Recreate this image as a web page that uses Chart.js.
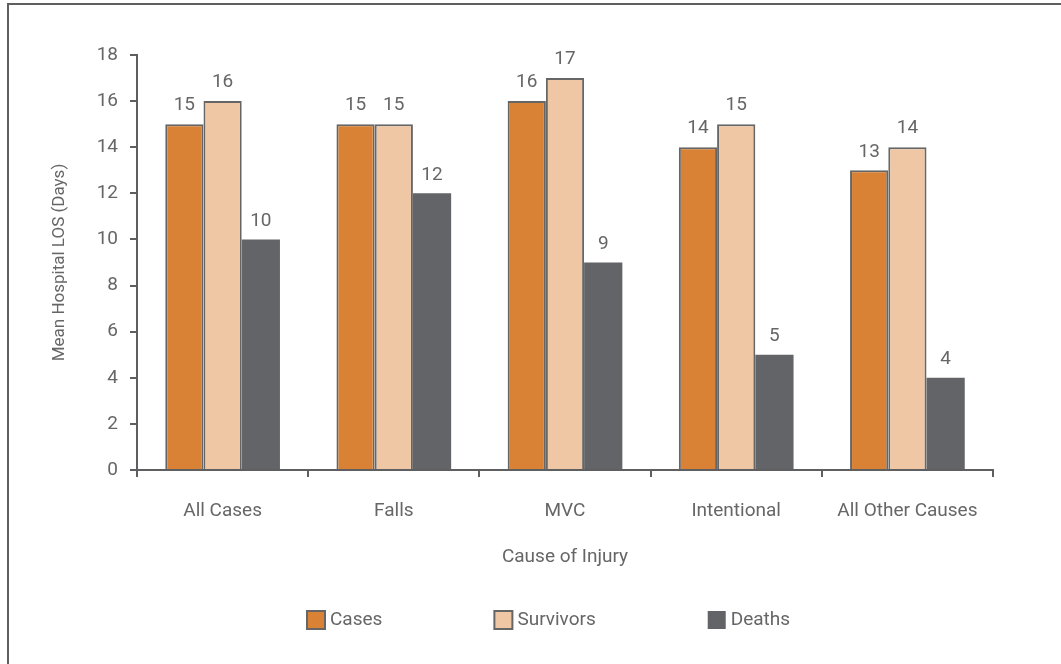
<!DOCTYPE html>
<html>
<head>
<meta charset="utf-8">
<script src="https://cdn.jsdelivr.net/npm/chart.js@4/dist/chart.umd.min.js"></script>
<style>
  html, body { margin: 0; padding: 0; background: #fff; }
  #wrap { width: 1061px; height: 664px; position: relative; }
</style>
</head>
<body>
<div id="wrap"><canvas id="myChart" width="1061" height="664"></canvas></div>
<script>
var categories = ["All Cases", "Falls", "MVC", "Intentional", "All Other Causes"];
var cases = [15, 15, 16, 14, 13];
var survivors = [16, 15, 17, 15, 14];
var deaths = [10, 12, 9, 5, 4];
var yTicks = [0, 2, 4, 6, 8, 10, 12, 14, 16, 18];

var FONT = "'Liberation Sans Narrow', 'Roboto', sans-serif";
var TEXT = "#666666";
var AXIS = "#5f5f62";

Chart.defaults.font.family = FONT;
Chart.defaults.color = TEXT;

// frame around the figure (only top and left show in the picture)
var framePlugin = {
  id: "frame",
  beforeDraw: function (chart) {
    var ctx = chart.ctx;
    ctx.save();
    ctx.fillStyle = "#fff";
    ctx.fillRect(0, 0, chart.width, chart.height);
    ctx.strokeStyle = AXIS;
    ctx.lineWidth = 2;
    ctx.beginPath();
    ctx.moveTo(8, chart.height);
    ctx.lineTo(8, 4);
    ctx.lineTo(chart.width, 4);
    ctx.stroke();
    ctx.restore();
  },
};

// numbers above the bars
var valueLabels = {
  id: "valueLabels",
  afterDatasetsDraw: function (chart) {
    var ctx = chart.ctx;
    ctx.save();
    ctx.font = "19px " + FONT;
    ctx.fillStyle = TEXT;
    ctx.textAlign = "center";
    ctx.textBaseline = "bottom";
    chart.data.datasets.forEach(function (ds, i) {
      chart.getDatasetMeta(i).data.forEach(function (bar, j) {
        ctx.fillText(ds.data[j], bar.x, bar.y - 9);
      });
    });
    ctx.restore();
  },
};

// legend row at the bottom, wide gaps like the original
var legendRow = {
  id: "legendRow",
  afterDraw: function (chart) {
    var ctx = chart.ctx;
    ctx.save();
    ctx.font = "19px " + FONT;
    ctx.textBaseline = "middle";
    ctx.textAlign = "left";
    var box = 18, gap = 112, x = 307, y = 620;
    chart.data.datasets.forEach(function (ds) {
      ctx.fillStyle = ds.backgroundColor;
      ctx.fillRect(x, y - box / 2, box, box);
      if (ds.borderWidth) {
        ctx.strokeStyle = ds.borderColor;
        ctx.lineWidth = 2;
        ctx.strokeRect(x, y - box / 2, box, box);
      }
      ctx.fillStyle = TEXT;
      ctx.fillText(ds.label, x + box + 5, y);
      x += box + 5 + ctx.measureText(ds.label).width + gap;
    });
    ctx.restore();
  },
};

var ctx = document.getElementById("myChart").getContext("2d");
var myChart = new Chart(ctx, {
  type: "bar",
  data: {
    labels: categories,
    datasets: [
      {
        label: "Cases",
        data: cases,
        backgroundColor: "#d98235",
        borderColor: "#666666",
        borderWidth: 2,
      },
      {
        label: "Survivors",
        data: survivors,
        backgroundColor: "#efc7a4",
        borderColor: "#666666",
        borderWidth: 2,
      },
      {
        label: "Deaths",
        data: deaths,
        backgroundColor: "#636467",
        borderColor: "#636467",
        borderWidth: 0,
      },
    ],
  },
  options: {
    responsive: false,
    animation: false,
    layout: {
      padding: { left: 46, right: 68, top: 55, bottom: 63 },
    },
    plugins: {
      legend: { display: false },
      tooltip: { enabled: false },
    },
    datasets: {
      bar: { barPercentage: 1, categoryPercentage: 0.67 },
    },
    scales: {
      x: {
        grid: {
          drawOnChartArea: false,
          drawTicks: true,
          tickLength: 7,
          color: AXIS,
          lineWidth: 2,
        },
        border: { color: AXIS, width: 2 },
        ticks: { font: { size: 19 }, color: TEXT, padding: 23 },
        title: {
          display: true,
          text: "Cause of Injury",
          font: { size: 19 },
          color: TEXT,
          padding: { top: 0, bottom: 32 },
        },
        afterFit: function (scale) {
          scale.height = 131;
        },
      },
      y: {
        min: 0,
        max: 18,
        afterBuildTicks: function (scale) {
          scale.ticks = yTicks.map(function (v) { return { value: v }; });
        },
        grid: {
          drawOnChartArea: false,
          drawTicks: true,
          tickLength: 7,
          color: AXIS,
          lineWidth: 2,
        },
        border: { color: AXIS, width: 2 },
        ticks: { font: { size: 19 }, color: TEXT, padding: 12 },
        title: {
          display: true,
          text: "Mean Hospital LOS (Days)",
          font: { size: 17 },
          color: TEXT,
          padding: { top: 4, bottom: 0 },
        },
        afterFit: function (scale) {
          scale.width = 91;
        },
      },
    },
  },
  plugins: [framePlugin, valueLabels, legendRow],
});
</script>
</body>
</html>
